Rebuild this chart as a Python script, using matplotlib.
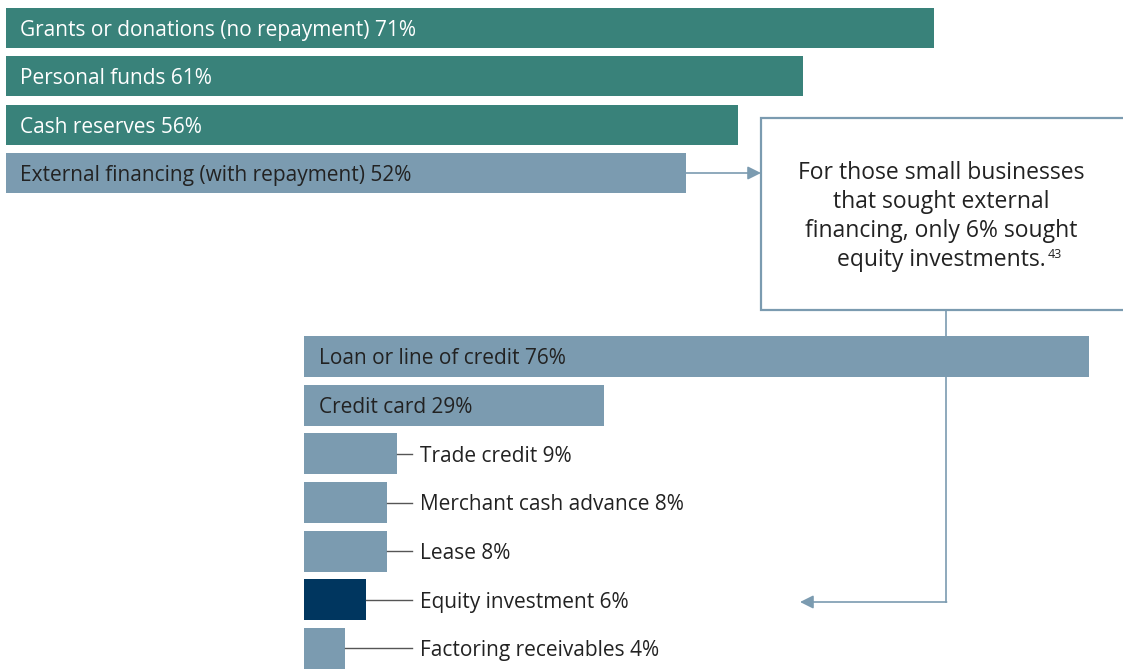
import matplotlib.pyplot as plt
from matplotlib.patches import Rectangle, FancyArrowPatch

plt.rcParams['font.family'] = ['Open Sans', 'DejaVu Sans']

# data
top_labels = ['Grants or donations (no repayment)', 'Personal funds',
              'Cash reserves', 'External financing (with repayment)']
top_values = [71, 61, 56, 52]
top_colors = ['#39827a', '#39827a', '#39827a', '#7b9bb0']

ext_labels = ['Loan or line of credit', 'Credit card', 'Trade credit',
              'Merchant cash advance', 'Lease', 'Equity investment',
              'Factoring receivables']
ext_values = [76, 29, 9, 8, 8, 6, 4]
ext_colors = ['#7b9bb0'] * 5 + ['#00365f', '#7b9bb0']

note_lines = ['For those small businesses', 'that sought external',
              'financing, only 6% sought', 'equity investments.']

W, H = 1123, 669


def fx(x):
    return x / W


def fy(y):
    return 1 - y / H


fig = plt.figure(figsize=(W / 100, H / 100), dpi=100)

# top chart: 0% at px 6, 13.07 px per %
ax1 = fig.add_axes([fx(6), fy(197), fx(W - 6), 193 / H])
ax1.barh(range(4), top_values, height=0.83, color=top_colors)
ax1.set_xlim(0, (W - 6) / 13.07)
ax1.set_ylim(3.5, -0.5)
ax1.axis('off')
for i, (lab, v) in enumerate(zip(top_labels, top_values)):
    c = 'white' if top_colors[i] != '#7b9bb0' else '#222222'
    ax1.text(1.07, i + 0.05, f'{lab} {v}%', va='center', ha='left',
             fontsize=15, color=c)

# bottom chart: 0% at px 304, 10.33 px per %
ax2 = fig.add_axes([fx(304), fy(672.8), fx(W - 304), (672.8 - 332.2) / H])
ax2.barh(range(7), ext_values, height=0.84, color=ext_colors)
ax2.set_xlim(0, (W - 304) / 10.33)
ax2.set_ylim(6.5, -0.5)
ax2.axis('off')
for i, (lab, v) in enumerate(zip(ext_labels, ext_values)):
    if v > 20:
        ax2.text(1.45, i + 0.05, f'{lab} {v}%', va='center', ha='left',
                 fontsize=15, color='#222222')
    else:
        ax2.plot([v, 10.45], [i, i], color='#555555', lw=1)
        ax2.text(11.2, i + 0.05, f'{lab} {v}%', va='center', ha='left',
                 fontsize=15, color='#222222')

# callout box
box = Rectangle((fx(761), fy(310)), fx(380), (310 - 118) / H,
                transform=fig.transFigure, facecolor='white',
                edgecolor='#7b9bb0', lw=1.6, clip_on=False)
fig.add_artist(box)
t = None
for k, line in enumerate(note_lines):
    t = fig.text(fx(941), fy(173 + 29 * k), line, ha='center', va='center',
                 fontsize=16.5, color='#222222', zorder=3)

# footnote marker right after the last line
fig.canvas.draw()
bb = t.get_window_extent()
fig.text((bb.x1 + 2) / W, (bb.y0 + 0.72 * bb.height) / H, '43',
         ha='left', va='center', fontsize=9, color='#222222', zorder=3)

# arrow from external financing bar to box
fig.add_artist(FancyArrowPatch((fx(686), fy(173)), (fx(761), fy(173)),
                               transform=fig.transFigure,
                               arrowstyle='-|>,head_length=8,head_width=4',
                               color='#7b9bb0', lw=1.2, shrinkA=0, shrinkB=0))
# connector from box down to equity investment
fig.add_artist(plt.Line2D([fx(946), fx(946)], [fy(311), fy(602)],
                          transform=fig.transFigure, color='#7b9bb0', lw=1.2))
fig.add_artist(FancyArrowPatch((fx(946.6), fy(602)), (fx(800), fy(602)),
                               transform=fig.transFigure,
                               arrowstyle='-|>,head_length=8,head_width=4',
                               color='#7b9bb0', lw=1.2, shrinkA=0, shrinkB=0))

fig.savefig('out.png', dpi=100)
